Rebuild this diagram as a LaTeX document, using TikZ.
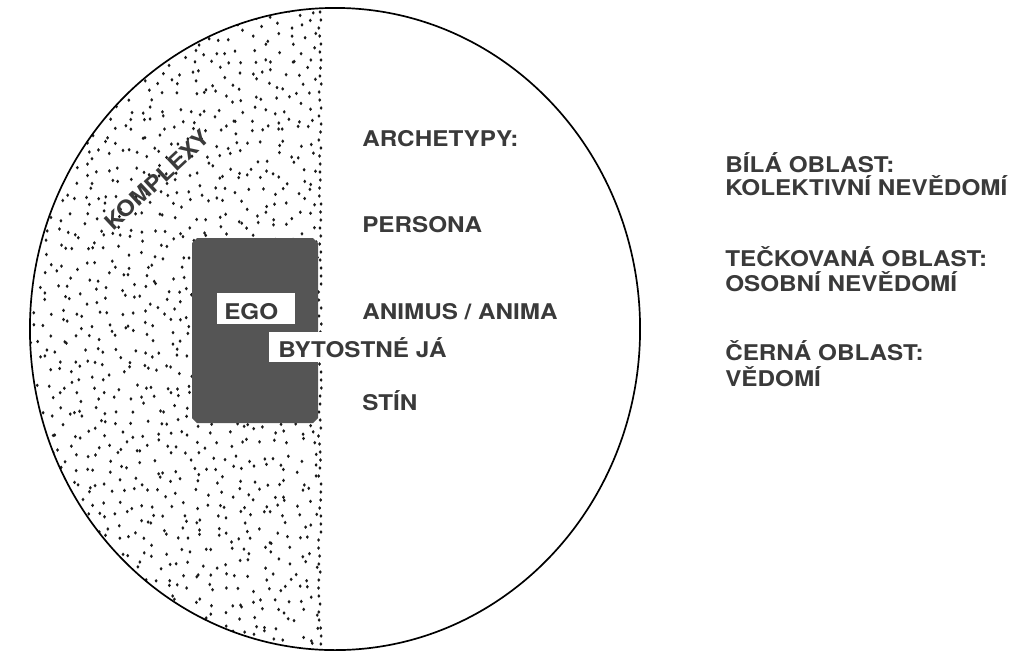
\documentclass[tikz,border=0pt]{standalone}
\usepackage{fontspec}
\setmainfont[FakeStretch=1.12]{TeX Gyre Heros}
\usetikzlibrary{positioning}
\definecolor{ink}{HTML}{3A3A3A}
\definecolor{egodark}{HTML}{555555}
\tikzset{
  arch_text/.style={anchor=base west, inner sep=0pt, text=ink, font=\fontsize{15.4}{18}\selectfont\bfseries},
  legend_text/.style={arch_text},
  white_box/.style={fill=white},
  dot/.style={fill=black!90},
}

\begin{document}
\begin{tikzpicture}[x=0.025cm, y=-0.025cm]
    \useasboundingbox (0,0) rectangle (1016,653);
    \pgfmathsetseed{4711}

    % stippled half: personal unconscious
    \begin{scope}
        \clip (335,329) ellipse [x radius=7.625cm, y radius=8.025cm];
        \clip (0,0) rectangle (324,653);
        \foreach \gx in {24,36,...,312}
            \foreach \gy in {0,12,...,648} {
                \pgfmathsetmacro{\px}{\gx+rnd*12-6}
                \pgfmathsetmacro{\py}{\gy+rnd*12-6}
                \fill[dot] (\px,\py) ellipse [x radius=1.05pt, y radius=1.3pt];
            }
        \foreach \gy in {4,12,...,652} {
            \pgfmathsetmacro{\px}{320+rnd*3-1.5}
            \fill[dot] (\px,\gy) ellipse [x radius=1.05pt, y radius=1.3pt];
        }
    \end{scope}

    \draw[line width=1.2pt] (335,329) ellipse [x radius=7.625cm, y radius=8.025cm];

    % black area: consciousness
    \fill[egodark] (197,238) -- (313,238) -- (318,243) -- (318,418) -- (313,423)
        -- (197,423) -- (192,418) -- (192,243) -- cycle;
    \fill[white_box] (217,293) rectangle (295,324);
    \fill[white_box] (269,332) rectangle (322,362);

    \node[arch_text] (ego) at (224,319) {EGO};
    \node[arch_text] (bytostne) at (278,357) {BYTOSTNÉ JÁ};

    \node[arch_text] (archetypy) at (362,146) {ARCHETYPY:};
    \node[arch_text] (persona) at (362,232) {PERSONA};
    \node[arch_text] (animus) at (362,319) {ANIMUS / ANIMA};
    \node[arch_text] (stin) at (362,410) {STÍN};

    \node[arch_text, anchor=center, rotate=43] (komplexy) at (157,180) {KOMPLEXY};

    % legend
    \node[legend_text] (bila) at (725,172) {BÍLÁ OBLAST:};
    \node[legend_text] (bila2) at (725,195) {KOLEKTIVNÍ NEVĚDOMÍ};
    \node[legend_text] (tecka) at (725,266) {TEČKOVANÁ OBLAST:};
    \node[legend_text] (tecka2) at (725,291) {OSOBNÍ NEVĚDOMÍ};
    \node[legend_text] (cerna) at (725,360) {ČERNÁ OBLAST:};
    \node[legend_text] (cerna2) at (725,386) {VĚDOMÍ};

\end{tikzpicture}
\end{document}
